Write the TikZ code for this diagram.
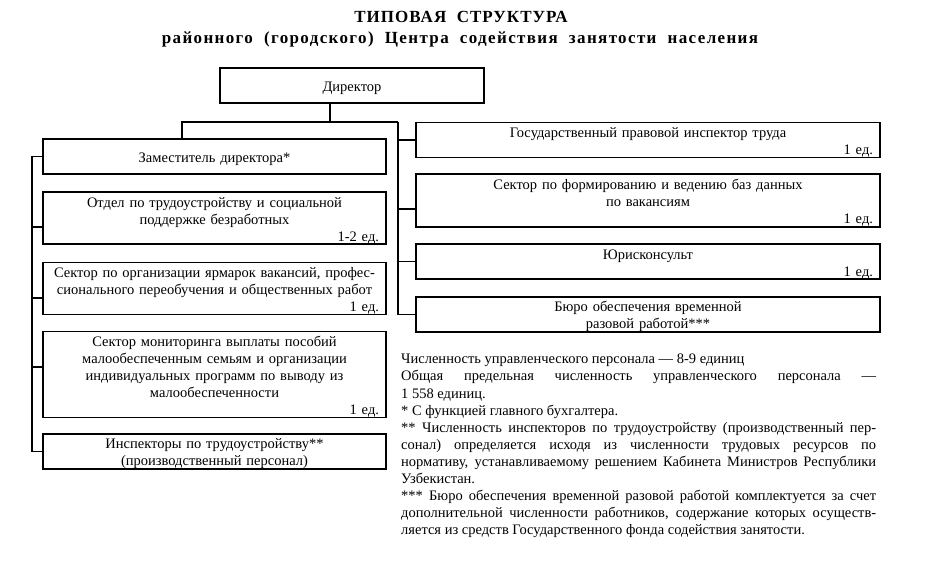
\documentclass[tikz,border=0pt]{standalone}
\usepackage{fontspec}
\setmainfont{Liberation Serif}
\newfontfamily\headfont[LetterSpace=6,WordSpace=2]{Liberation Serif}
\newfontfamily\subheadfont[LetterSpace=8,WordSpace=2]{Liberation Serif}
\newcommand\shtat[1]{\hskip 0pt plus 1filll #1}
\begin{document}
\begin{tikzpicture}[x=1pt,y=-1pt,
    box/.style={draw, line width=1.3pt, rectangle, inner xsep=7pt, inner ysep=0pt, align=center,
      font=\fontsize{14.5}{17}\selectfont, execute at begin node={\rule{0pt}{15pt}}},
    lbox/.style={box, text width=329pt},
    rbox/.style={box, text width=450pt},
    head/.style={font=\headfont\bfseries\fontsize{17}{20}\selectfont, inner sep=0pt},
    subhead/.style={font=\subheadfont\bfseries\fontsize{17}{20}\selectfont, inner sep=0pt},
    notes/.style={anchor=north west, inner sep=0pt, text width=475pt, align=justify,
      font=\fontsize{14.5}{17.1}\selectfont\tolerance 10000\relax\hyphenpenalty 10000\relax},
    link/.style={line width=1.3pt}]
    \useasboundingbox (0,0) rectangle (946,578);

    % Title
    \node[head] (head) at (461,17) {ТИПОВАЯ СТРУКТУРА};
    \node[subhead] (subhead) at (460,39) {районного (городского) Центра содействия занятости населения};

    % Director
    \node[box, minimum width=264pt, minimum height=35pt] (dir) at (352,85.5) {Директор};

    % Left column
    \node[lbox, minimum height=35pt] (zam) at (214.5,156.5) {Заместитель директора*};
    \node[lbox, minimum height=52pt] (otdel) at (214.5,218) {Отдел по трудоустройству и социальной\\ поддержке безработных\\ \shtat{1-2 ед.}};
    \node[lbox, minimum height=51pt] (yarm) at (214.5,288.5) {Сектор по организации ярмарок вакансий, профес-\\ сионального переобучения и общественных работ\\ \shtat{1 ед.}};
    \node[lbox, minimum height=85pt] (monit) at (214.5,374.5) {Сектор мониторинга выплаты пособий\\ малообеспеченным семьям и организации\\ индивидуальных программ по выводу из\\ малообеспеченности\\ \shtat{1 ед.}};
    \node[lbox, minimum height=35pt] (inspk) at (214.5,451.5) {Инспекторы по трудоустройству**\\ (производственный персонал)};

    % Right column
    \node[rbox, minimum height=34pt] (gos) at (648,140) {Государственный правовой инспектор труда\\ \shtat{1 ед.}};
    \node[rbox, minimum height=53pt] (baza) at (648,200.5) {Сектор по формированию и ведению баз данных\\ по вакансиям\\ \shtat{1 ед.}};
    \node[rbox, minimum height=35pt] (jur) at (648,261.5) {Юрисконсульт\\ \shtat{1 ед.}};
    \node[rbox, minimum height=35pt] (buro) at (648,314.5) {Бюро обеспечения временной\\ разовой работой***};

    % Connectors
    \coordinate (hub) at (330,122);
    \coordinate (rbus) at (398,122);
    \coordinate (lspine) at (32,157);
    \draw[link] (dir.south -| hub) -- (hub);
    \draw[link] (zam.north -| 182,0) |- (rbus);
    \foreach \n/\s in {gos/0,baza/-8.5,jur/0,buro/0}
      \draw[link] ([yshift=\s pt]\n.west) -| (rbus);
    \foreach \n/\s in {zam/0,otdel/-9,yarm/-9.5,monit/7.5,inspk/0}
      \draw[link] ([yshift=\s pt]\n.west) -| (lspine);

    % Notes
    \node[notes] (notes) at (401,354) {Численность управленческого персонала — 8-9 единиц\par
      Общая предельная численность управленческого персонала —\linebreak 1~558 единиц.\par
      * С функцией главного бухгалтера.\par
      ** Численность инспекторов по трудоустройству (производственный пер-\linebreak
      сонал) определяется исходя из численности трудовых ресурсов по\linebreak
      нормативу, устанавливаемому решением Кабинета Министров Республики\linebreak
      Узбекистан.\par
      *** Бюро обеспечения временной разовой работой комплектуется за счет\linebreak
      дополнительной численности работников, содержание которых осуществ-\linebreak
      ляется из средств Государственного фонда содействия занятости.};
\end{tikzpicture}
\end{document}
